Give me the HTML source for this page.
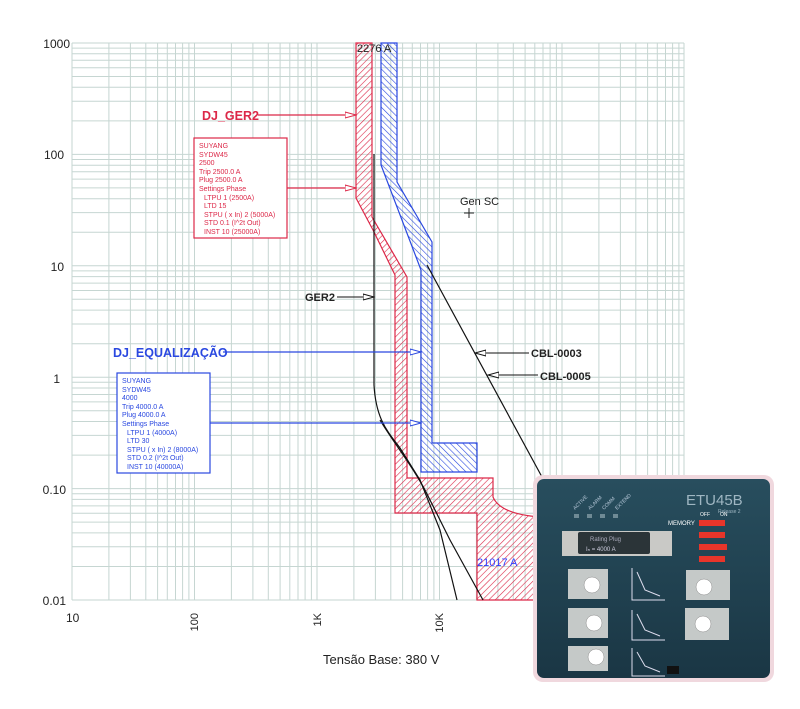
<!DOCTYPE html>
<html><head><meta charset="utf-8"><style>
html,body{margin:0;padding:0;background:#fff;}
svg{display:block;font-family:"Liberation Sans",sans-serif;}
</style></head><body>
<svg width="800" height="709" viewBox="0 0 800 709" xmlns="http://www.w3.org/2000/svg">
<defs>
<pattern id="hr" width="4.5" height="4.5" patternUnits="userSpaceOnUse" patternTransform="rotate(45)">
<line x1="0" y1="0" x2="0" y2="4.5" stroke="#dc2848" stroke-width="1.2"/></pattern>
<pattern id="hb" width="4.5" height="4.5" patternUnits="userSpaceOnUse" patternTransform="rotate(-45)">
<line x1="0" y1="0" x2="0" y2="4.5" stroke="#2a48e0" stroke-width="1.2"/></pattern>
<marker id="ar" markerWidth="12" markerHeight="8" refX="11" refY="4" orient="auto" markerUnits="userSpaceOnUse">
<path d="M0,1 L11,4 L0,7 Z" fill="#fff" stroke="context-stroke"/></marker>
<linearGradient id="pg" x1="0" y1="0" x2="0" y2="1"><stop offset="0" stop-color="#284e5e"/><stop offset="1" stop-color="#1a3644"/></linearGradient>
</defs>
<g stroke="#c6d6d2" stroke-width="1" fill="none">
<path d="M72 43V600M108.9 43V600M130.4 43V600M145.8 43V600M157.6 43V600M167.3 43V600M175.5 43V600M182.6 43V600M188.9 43V600
M194.5 43V600M231.4 43V600M252.9 43V600M268.3 43V600M280.1 43V600M289.8 43V600M298 43V600M305.1 43V600M311.4 43V600
M317 43V600M353.9 43V600M375.4 43V600M390.8 43V600M402.6 43V600M412.3 43V600M420.5 43V600M427.6 43V600M433.9 43V600
M439.5 43V600M476.4 43V600M497.9 43V600M513.3 43V600M525.1 43V600M534.8 43V600M543 43V600M550.1 43V600M556.4 43V600
M562 43V600M598.9 43V600M620.4 43V600M635.8 43V600M647.6 43V600M657.3 43V600M665.5 43V600M672.6 43V600M678.9 43V600M684 43V600"/>
<path d="M72 600H684M72 566.5H684M72 546.8H684M72 532.9H684M72 522.1H684M72 513.3H684M72 505.9H684M72 499.4H684M72 493.7H684
M72 488.6H684M72 455.1H684M72 435.4H684M72 421.5H684M72 410.7H684M72 401.9H684M72 394.5H684M72 388H684M72 382.3H684
M72 377.2H684M72 343.7H684M72 324H684M72 310.1H684M72 299.3H684M72 290.5H684M72 283.1H684M72 276.6H684M72 270.9H684
M72 265.8H684M72 232.3H684M72 212.6H684M72 198.7H684M72 187.9H684M72 179.1H684M72 171.7H684M72 165.2H684M72 159.5H684
M72 154.4H684M72 120.9H684M72 101.2H684M72 87.3H684M72 76.5H684M72 67.7H684M72 60.3H684M72 53.8H684M72 48.1H684M72 43H684"/>
</g>
<g font-size="12" fill="#222" text-anchor="end">
<text x="70" y="48">1000</text><text x="64" y="159">100</text><text x="64" y="271">10</text>
<text x="60" y="383">1</text><text x="66" y="494">0.10</text><text x="66" y="605">0.01</text>
</g>
<text x="66" y="622" font-size="12" fill="#222">10</text>
<text transform="translate(198,613) rotate(-90)" font-size="11" fill="#222" text-anchor="end">100</text>
<text transform="translate(321,613) rotate(-90)" font-size="11" fill="#222" text-anchor="end">1K</text>
<text transform="translate(443,613) rotate(-90)" font-size="11" fill="#222" text-anchor="end">10K</text>
<text x="323" y="664" font-size="13" fill="#222">Tensão Base: 380 V</text>
<path d="M356 43 H372 V217 L407 277 V478 H493 V497 Q500 514 540 517 V600 H477 V513 H395 V275 L373 230 L356 198 Z" fill="url(#hr)" stroke="#dc2848" stroke-width="1.2"/>
<path d="M381 43 H397 V182 L432 242 V443 H477 V472 H421 V270 L381 165 Z" fill="url(#hb)" stroke="#2a48e0" stroke-width="1.2"/>
<g fill="none" stroke="#111" stroke-width="1.2">
<path d="M374 154 V385 C376 420 388 432 400 448 L420 480 L440 530 L457 600"/>
<path d="M427 265 L542 477"/>
<path d="M380 420 C395 445 410 462 425 490 L450 540 L483 600"/>
</g>
<text x="357" y="52" font-size="11" fill="#222">2276 A</text>
<text x="202" y="120" font-size="12.5" font-weight="bold" fill="#dc2848">DJ_GER2</text>
<line x1="258" y1="115" x2="356" y2="115" stroke="#dc2848" stroke-width="1.2" marker-end="url(#ar)"/>
<rect x="194" y="138" width="93" height="100" fill="#fff" stroke="#dc2848" stroke-width="1.2"/>
<g font-size="7" fill="#dc2848">
<text x="199" y="148">SUYANG</text><text x="199" y="157">SYDW45</text><text x="199" y="165">2500</text>
<text x="199" y="174">Trip 2500.0 A</text><text x="199" y="182">Plug 2500.0 A</text><text x="199" y="191">Settings Phase</text>
<text x="204" y="200">LTPU 1 (2500A)</text><text x="204" y="208">LTD 15</text><text x="204" y="217">STPU ( x In) 2 (5000A)</text>
<text x="204" y="225">STD 0.1 (I^2t Out)</text><text x="204" y="234">INST 10 (25000A)</text>
</g>
<line x1="287" y1="188" x2="356" y2="188" stroke="#dc2848" stroke-width="1.2" marker-end="url(#ar)"/>
<text x="460" y="205" font-size="11" fill="#222">Gen SC</text>
<path d="M464 213 H474 M469 208 V218" stroke="#222"/>
<text x="305" y="301" font-size="11" font-weight="bold" fill="#222">GER2</text>
<line x1="337" y1="297" x2="374" y2="297" stroke="#111" marker-end="url(#ar)"/>
<text x="113" y="357" font-size="12.5" font-weight="bold" fill="#2a48e0">DJ_EQUALIZAÇÃO</text>
<line x1="223" y1="352" x2="421" y2="352" stroke="#2a48e0" stroke-width="1.2" marker-end="url(#ar)"/>
<rect x="117" y="373" width="93" height="100" fill="#fff" stroke="#2a48e0" stroke-width="1.2"/>
<g font-size="7" fill="#2a48e0">
<text x="122" y="383">SUYANG</text><text x="122" y="392">SYDW45</text><text x="122" y="400">4000</text>
<text x="122" y="409">Trip 4000.0 A</text><text x="122" y="417">Plug 4000.0 A</text><text x="122" y="426">Settings Phase</text>
<text x="127" y="435">LTPU 1 (4000A)</text><text x="127" y="443">LTD 30</text><text x="127" y="452">STPU ( x In) 2 (8000A)</text>
<text x="127" y="460">STD 0.2 (I^2t Out)</text><text x="127" y="469">INST 10 (40000A)</text>
</g>
<line x1="210" y1="423" x2="421" y2="423" stroke="#2a48e0" stroke-width="1.2" marker-end="url(#ar)"/>
<text x="531" y="357" font-size="11" font-weight="bold" fill="#222">CBL-0003</text>
<line x1="529" y1="353" x2="475" y2="353" stroke="#111" marker-end="url(#ar)"/>
<text x="540" y="380" font-size="11" font-weight="bold" fill="#222">CBL-0005</text>
<line x1="538" y1="375" x2="488" y2="375" stroke="#111" marker-end="url(#ar)"/>
<text x="477" y="566" font-size="11" fill="#3040ff">21017 A</text>
<rect x="533" y="475" width="241" height="207" rx="10" fill="#f0d8de"/>
<rect x="537" y="479" width="233" height="199" rx="7" fill="url(#pg)"/>
<text x="686" y="505" font-size="15" fill="#9fb6c2">ETU45B</text>
<text x="718" y="513" font-size="5" fill="#9fb6c2">Release 2</text>
<g fill="#6f8a95"><rect x="574" y="514" width="5" height="4"/><rect x="587" y="514" width="5" height="4"/><rect x="600" y="514" width="5" height="4"/><rect x="613" y="514" width="5" height="4"/></g>
<g font-size="5" fill="#bcd"><text transform="translate(575,510) rotate(-45)">ACTIVE</text><text transform="translate(590,510) rotate(-45)">ALARM</text><text transform="translate(604,510) rotate(-45)">COMM</text><text transform="translate(617,510) rotate(-45)">EXTEND</text></g>
<rect x="562" y="531" width="110" height="25" fill="#c9c9c6"/>
<rect x="578" y="532" width="72" height="22" rx="2" fill="#2b3438"/>
<text x="590" y="541" font-size="6" fill="#aab">Rating Plug</text>
<text x="586" y="551" font-size="6" fill="#ccd">Iₙ =  4000 A</text>
<text x="668" y="525" font-size="6" fill="#fff">MEMORY</text>
<text x="700" y="516" font-size="5" fill="#fff">OFF</text><text x="720" y="516" font-size="5" fill="#fff">ON</text>
<g fill="#e8352a"><rect x="699" y="520" width="26" height="6"/><rect x="699" y="532" width="26" height="6"/><rect x="699" y="544" width="28" height="6"/><rect x="699" y="556" width="26" height="6"/></g>
<g fill="#c5c9c8">
<rect x="568" y="569" width="40" height="30"/><rect x="568" y="608" width="40" height="30"/><rect x="568" y="646" width="40" height="25"/>
<rect x="686" y="570" width="44" height="30"/><rect x="685" y="608" width="44" height="32"/>
</g>
<g fill="#fff" stroke="#888" stroke-width="0.5">
<circle cx="592" cy="585" r="8"/><circle cx="594" cy="623" r="8"/><circle cx="596" cy="657" r="8"/>
<circle cx="704" cy="587" r="8"/><circle cx="703" cy="624" r="8"/>
</g>
<g fill="none" stroke="#dde" stroke-width="1">
<path d="M632 568 V600 H665 M637 572 L645 590 L660 596"/><path d="M632 610 V640 H665 M637 614 L645 630 L660 636"/><path d="M632 648 V676 H665 M637 652 L645 666 L660 672"/>
</g>
<rect x="667" y="666" width="12" height="8" fill="#111"/>
</svg>
</body></html>
